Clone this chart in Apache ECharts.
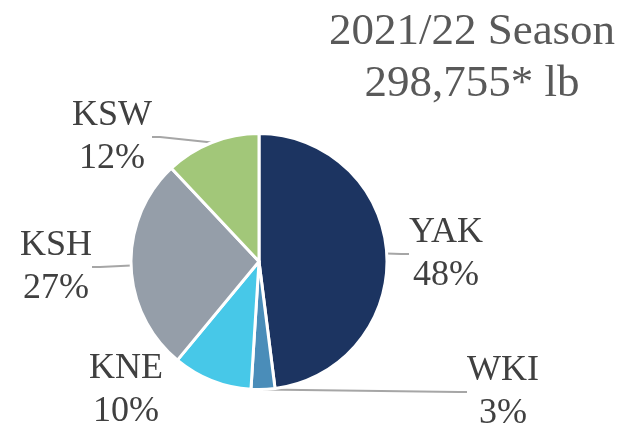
<!DOCTYPE html>
<html>
<head>
<meta charset="utf-8">
<script src="https://cdn.jsdelivr.net/npm/echarts@6/dist/echarts.min.js"></script>
<style>
  html, body { margin: 0; padding: 0; background: #ffffff; }
  #chart { width: 633px; height: 430px; }
</style>
</head>
<body>
<div id="chart"></div>
<script>
const regions = ["YAK", "WKI", "KNE", "KSH", "KSW"];
const shares = [48, 3, 10, 27, 12];
const sliceColors = ["#1C3461", "#4A8DB9", "#47C8E8", "#959EA9", "#A2C779"];
const titleLines = ["2021/22 Season", "298,755* lb"];

// where each label block sits (text centre)
const labelSpots = {
  YAK: [446, 254],
  WKI: [503, 392],
  KNE: [126, 390],
  KSH: [56, 267],
  KSW: [112, 137]
};
const serif = "'Liberation Serif', 'Times New Roman', serif";

const myChart = echarts.init(document.getElementById("chart"));
const option = {
  animation: false,
  title: {
    text: titleLines.join("\n"),
    left: 467,
    top: 1,
    textAlign: "center",
    textStyle: {
      fontFamily: serif,
      fontWeight: "normal",
      fontSize: 45,
      lineHeight: 52,
      color: "#595959"
    }
  },
  series: [
    {
      type: "pie",
      center: [259, 261.5],
      radius: [0, 128],
      startAngle: 90,
      clockwise: true,
      itemStyle: {
        borderColor: "#ffffff",
        borderWidth: 3
      },
      label: {
        show: true,
        formatter: "{b}\n{c}%",
        fontFamily: serif,
        fontSize: 36,
        lineHeight: 43,
        color: "#404040",
        align: "center"
      },
      labelLine: {
        show: true,
        length: 12,
        length2: 8,
        lineStyle: { color: "#A6A6A6", width: 2 }
      },
      labelLayout: params => {
        const spot = labelSpots[regions[params.dataIndex]];
        return {
          x: spot[0],
          y: spot[1],
          align: "center",
          verticalAlign: "middle"
        };
      },
      data: regions.map((name, i) => ({
        name: name,
        value: shares[i],
        itemStyle: { color: sliceColors[i] },
        // KNE sits close enough to its slice that no leader is drawn
        labelLine: { show: name !== "KNE" }
      }))
    }
  ]
};
myChart.setOption(option);
</script>
</body>
</html>
